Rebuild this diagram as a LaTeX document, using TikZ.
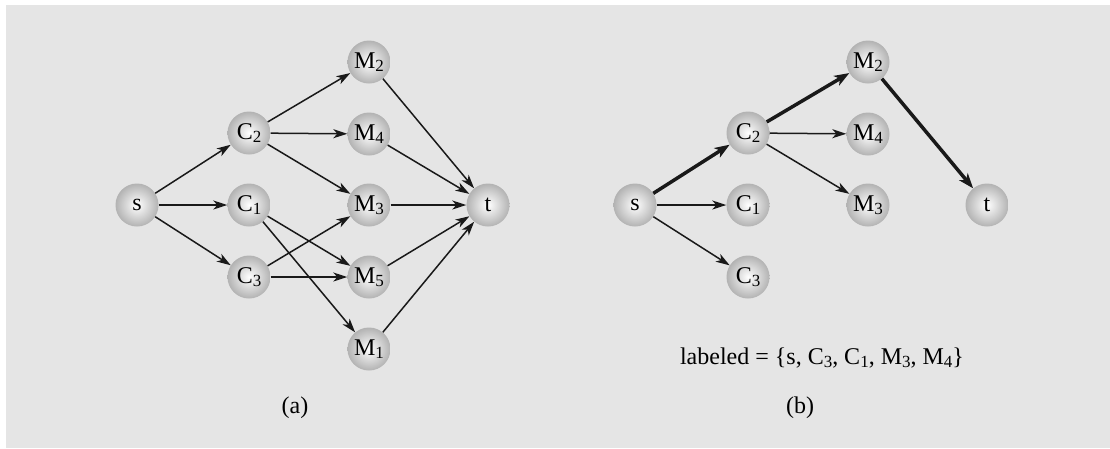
\documentclass[tikz,border=0pt]{standalone}
\usepackage{fontspec}
\setmainfont{Liberation Serif}
\usetikzlibrary{arrows.meta}
\newcommand{\lowsub}[1]{\raisebox{-0.3ex}{\fontsize{17}{18}\selectfont #1}}
\tikzset{
  vtx/.style={circle, minimum size=43pt, inner sep=0pt, shading=radial,
    inner color=white, outer color=black!30, font=\fontsize{24}{26}\selectfont},
  edge/.style={line width=1.5pt, -{Stealth[length=14pt,width=9pt,inset=4pt]}, black!90},
  boldarr/.style={line width=3.5pt, black!90, -{Stealth[length=15pt,width=11pt,inset=4pt]}},
  txt/.style={font=\fontsize{24}{26}\selectfont}
}
\begin{document}
\begin{tikzpicture}[x=1pt,y=-1pt]
\useasboundingbox (0,0) rectangle (1110,448);
\fill[white] (0,0) rectangle (1110,448);
\fill[black!10] (6,5) rectangle (1110,448);
% (a)
\node[vtx] (s) at (137,205) {s};
\node[vtx] (c2) at (249,133) {C\lowsub{2}};
\node[vtx] (c1) at (249,205) {C\lowsub{1}};
\node[vtx] (c3) at (249,277) {C\lowsub{3}};
\node[vtx] (m2) at (369,62) {M\lowsub{2}};
\node[vtx] (m4) at (369,134) {M\lowsub{4}};
\node[vtx] (m3) at (369,205) {M\lowsub{3}};
\node[vtx] (m5) at (369,277) {M\lowsub{5}};
\node[vtx] (m1) at (369,349) {M\lowsub{1}};
\node[vtx] (t) at (488,205) {t};
\draw[edge] (s) -- (c2);
\draw[edge] (s) -- (c1);
\draw[edge] (s) -- (c3);
\draw[edge] (c2) -- (m2);
\draw[edge] (c2) -- (m4);
\draw[edge] (c2) -- (m3);
\draw[edge] (c1) -- (m5);
\draw[edge] (c1) -- (m1);
\draw[edge] (c3) -- (m3);
\draw[edge] (c3) -- (m5);
\draw[edge] (m2) -- (t);
\draw[edge] (m4) -- (t);
\draw[edge] (m3) -- (t);
\draw[edge] (m5) -- (t);
\draw[edge] (m1) -- (t);
\node[txt] (la) at (295,408) {(a)};
% (b)
\node[vtx] (bs) at (635,205) {s};
\node[vtx] (bc2) at (748,133) {C\lowsub{2}};
\node[vtx] (bc1) at (748,205) {C\lowsub{1}};
\node[vtx] (bc3) at (748,277) {C\lowsub{3}};
\node[vtx] (bm2) at (868,62) {M\lowsub{2}};
\node[vtx] (bm4) at (868,134) {M\lowsub{4}};
\node[vtx] (bm3) at (868,205) {M\lowsub{3}};
\node[vtx] (bt) at (987,205) {t};
\draw[boldarr] (bs) -- (bc2);
\draw[edge] (bs) -- (bc1);
\draw[edge] (bs) -- (bc3);
\draw[boldarr] (bc2) -- (bm2);
\draw[edge] (bc2) -- (bm4);
\draw[edge] (bc2) -- (bm3);
\draw[boldarr] (bm2) -- (bt);
\node[txt] (lab) at (822,358) {labeled = \{s, C\lowsub{3}, C\lowsub{1}, M\lowsub{3}, M\lowsub{4}\}};
\node[txt] (lb) at (800,408) {(b)};
\end{tikzpicture}
\end{document}
